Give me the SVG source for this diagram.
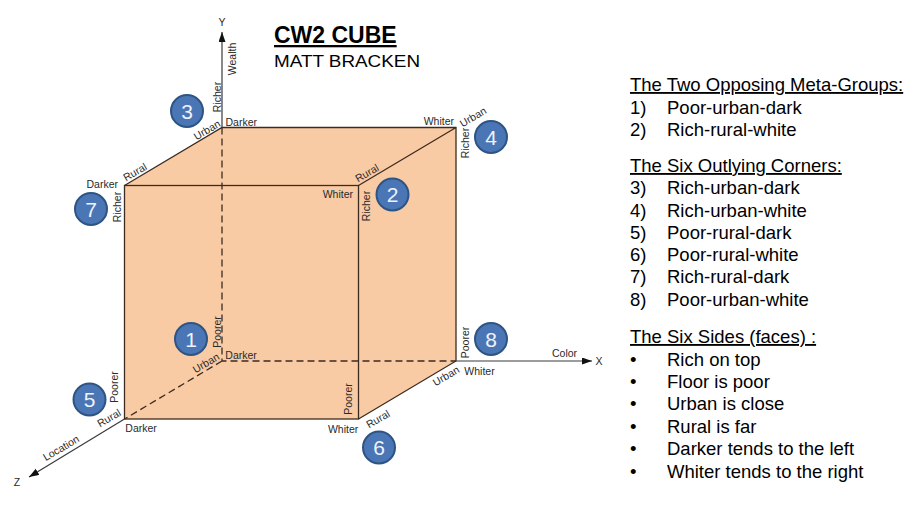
<svg xmlns="http://www.w3.org/2000/svg" width="922" height="507" viewBox="0 0 922 507">
<style>
  .lbl{font-family:"Liberation Sans",Arial,sans-serif;font-size:10.5px;fill:#2a2a2a}
  .edge{fill:none;stroke:#3d2b1f;stroke-width:1.3}
  .dash{fill:none;stroke:#3d2b1f;stroke-width:1.3;stroke-dasharray:7 4}
  .axis{fill:none;stroke:#3a3a3a;stroke-width:1.2}
  .badge circle{fill:#4a76b6;stroke:#2e5483;stroke-width:2}
  .badge text{font-family:"Liberation Sans",Arial,sans-serif;font-size:21px;fill:#eef3fb;text-anchor:middle}
  .leg{font-family:"Liberation Sans",Arial,sans-serif;font-size:18.5px;fill:#000}
  .ul{text-decoration:underline}
</style>
<defs>
  <marker id="arr" markerUnits="userSpaceOnUse" markerWidth="10" markerHeight="8" refX="10" refY="3.5" orient="auto">
    <path d="M0,0 L10,3.5 L0,7 z" fill="#111"/>
  </marker>
</defs>
<rect width="922" height="507" fill="#fff"/>

<g id="cube">
  <polygon points="124.5,185.5 222,127.5 456,127.5 456,361 358.5,419 124.5,419" fill="#f9cba5"/>
  <path class="dash" d="M222,127.5 V361 H456 M222,361 L124.5,419"/>
  <rect class="edge" x="124.5" y="185.5" width="234" height="233.5"/>
  <path class="edge" d="M124.5,185.5 L222,127.5 H456 V361 L358.5,419 M358.5,185.5 L456,127.5"/>
</g>

<g id="connectors">
  <line class="axis" x1="222" y1="127.5" x2="222" y2="32" marker-end="url(#arr)"/>
  <line class="axis" x1="456" y1="361" x2="592" y2="361" marker-end="url(#arr)"/>
  <line class="axis" x1="124.5" y1="419" x2="29" y2="477" marker-end="url(#arr)"/>
</g>

<g id="title">
  <text x="274" y="43" font-family="Liberation Sans,Arial,sans-serif" font-size="23" font-weight="bold" class="ul">CW2 CUBE</text>
  <text x="274" y="67" font-family="Liberation Sans,Arial,sans-serif" font-size="17" textLength="146" lengthAdjust="spacingAndGlyphs">MATT BRACKEN</text>
</g>

<g id="axis-labels" class="lbl">
  <text x="222" y="25.5" text-anchor="middle">Y</text>
  <text x="599" y="365" text-anchor="middle">X</text>
  <text x="17" y="486" text-anchor="middle">Z</text>
  <text x="552" y="357">Color</text>
  <text transform="translate(232,59) rotate(-90)" text-anchor="middle" dy=".35em">Wealth</text>
  <text transform="translate(61,448) rotate(-30.75)" text-anchor="middle" dy=".35em">Location</text>
</g>

<g id="corner-labels" class="lbl">
  <!-- vertical -->
  <text transform="translate(217,97) rotate(-90)" text-anchor="middle" dy=".35em">Richer</text>
  <text transform="translate(117,207) rotate(-90)" text-anchor="middle" dy=".35em">Richer</text>
  <text transform="translate(465,143) rotate(-90)" text-anchor="middle" dy=".35em">Richer</text>
  <text transform="translate(366.5,206) rotate(-90)" text-anchor="middle" dy=".35em">Richer</text>
  <text transform="translate(217,332) rotate(-90)" text-anchor="middle" dy=".35em">Poorer</text>
  <text transform="translate(114.5,387) rotate(-90)" text-anchor="middle" dy=".35em">Poorer</text>
  <text transform="translate(465,342.5) rotate(-90)" text-anchor="middle" dy=".35em">Poorer</text>
  <text transform="translate(348.5,399) rotate(-90)" text-anchor="middle" dy=".35em">Poorer</text>
  <!-- horizontal -->
  <text x="225.5" y="125.7">Darker</text>
  <text x="118" y="188.2" text-anchor="end">Darker</text>
  <text x="454" y="125.4" text-anchor="end">Whiter</text>
  <text x="353" y="198" text-anchor="end">Whiter</text>
  <text x="225.3" y="359">Darker</text>
  <text x="125.3" y="432.4">Darker</text>
  <text x="464.3" y="374.7">Whiter</text>
  <text x="358.3" y="432.7" text-anchor="end">Whiter</text>
  <!-- diagonal -->
  <text transform="translate(207,130) rotate(-30.75)" text-anchor="middle" dy=".35em">Urban</text>
  <text transform="translate(135,172) rotate(-30.75)" text-anchor="middle" dy=".35em">Rural</text>
  <text transform="translate(367,173) rotate(-30.75)" text-anchor="middle" dy=".35em">Rural</text>
  <text transform="translate(473,117) rotate(-30.75)" text-anchor="middle" dy=".35em">Urban</text>
  <text transform="translate(206,363) rotate(-30.75)" text-anchor="middle" dy=".35em">Urban</text>
  <text transform="translate(109,418) rotate(-30.75)" text-anchor="middle" dy=".35em">Rural</text>
  <text transform="translate(446,376) rotate(-30.75)" text-anchor="middle" dy=".35em">Urban</text>
  <text transform="translate(378,419) rotate(-30.75)" text-anchor="middle" dy=".35em">Rural</text>
</g>

<g id="node-1" class="badge"><circle cx="191" cy="339" r="16"/><text x="191" y="346.5">1</text></g>
<g id="node-2" class="badge"><circle cx="392.5" cy="194.5" r="16"/><text x="392.5" y="202">2</text></g>
<g id="node-3" class="badge"><circle cx="187" cy="111" r="16"/><text x="187" y="118.5">3</text></g>
<g id="node-4" class="badge"><circle cx="491" cy="137" r="16"/><text x="491" y="144.5">4</text></g>
<g id="node-5" class="badge"><circle cx="89.5" cy="399.5" r="16"/><text x="89.5" y="407">5</text></g>
<g id="node-6" class="badge"><circle cx="379" cy="447.5" r="16"/><text x="379" y="455">6</text></g>
<g id="node-7" class="badge"><circle cx="91" cy="209" r="16"/><text x="91" y="216.5">7</text></g>
<g id="node-8" class="badge"><circle cx="491" cy="339" r="16"/><text x="491" y="346.5">8</text></g>

<g id="legend" class="leg">
  <text x="630" y="91" class="ul">The Two Opposing Meta-Groups:</text>
  <text x="630" y="113.5">1)</text><text x="667" y="113.5">Poor-urban-dark</text>
  <text x="630" y="136">2)</text><text x="667" y="136">Rich-rural-white</text>
  <text x="630" y="172" class="ul">The Six Outlying Corners:</text>
  <text x="630" y="194">3)</text><text x="667" y="194">Rich-urban-dark</text>
  <text x="630" y="216.5">4)</text><text x="667" y="216.5">Rich-urban-white</text>
  <text x="630" y="238.5">5)</text><text x="667" y="238.5">Poor-rural-dark</text>
  <text x="630" y="261">6)</text><text x="667" y="261">Poor-rural-white</text>
  <text x="630" y="283">7)</text><text x="667" y="283">Rich-rural-dark</text>
  <text x="630" y="305.5">8)</text><text x="667" y="305.5">Poor-urban-white</text>
  <text x="630" y="343" class="ul">The Six Sides (faces) :</text>
  <text x="630" y="365.5">•</text><text x="667" y="365.5">Rich on top</text>
  <text x="630" y="388">•</text><text x="667" y="388">Floor is poor</text>
  <text x="630" y="410">•</text><text x="667" y="410">Urban is close</text>
  <text x="630" y="432.5">•</text><text x="667" y="432.5">Rural is far</text>
  <text x="630" y="455">•</text><text x="667" y="455">Darker tends to the left</text>
  <text x="630" y="477.5">•</text><text x="667" y="477.5">Whiter tends to the right</text>
</g>
</svg>
